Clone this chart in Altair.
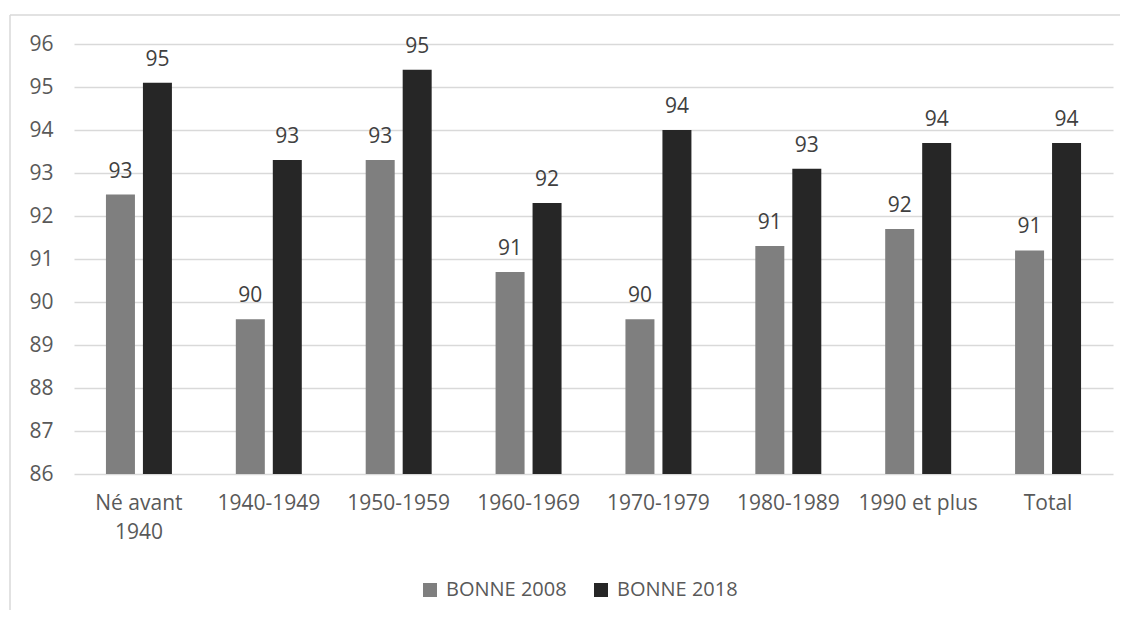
import altair as alt
import pandas as pd

categories = ["Né avant 1940", "1940-1949", "1950-1959", "1960-1969",
              "1970-1979", "1980-1989", "1990 et plus", "Total"]
series_names = ["BONNE 2008", "BONNE 2018"]
values_2008 = [92.5, 89.6, 93.3, 90.7, 89.6, 91.3, 91.7, 91.2]
values_2018 = [95.1, 93.3, 95.4, 92.3, 94.0, 93.1, 93.7, 93.7]
y_ticks = list(range(86, 97))

rows = []
for c, a, b in zip(categories, values_2008, values_2018):
    rows.append({"cat": c, "serie": series_names[0], "val": a})
    rows.append({"cat": c, "serie": series_names[1], "val": b})
df = pd.DataFrame(rows)

FONT = "Open Sans"
FS = 21
W, H = 1039, 430

x = alt.X("cat:N", sort=categories, title=None,
          scale=alt.Scale(paddingInner=0.492, paddingOuter=0.246),
          axis=alt.Axis(labelAngle=0, domain=False, ticks=False, labelPadding=18,
                        labelFontSize=FS, labelColor="#595959", labelFont=FONT,
                        labelLineHeight=29, labelBaseline="top",
                        labelExpr="datum.label == 'Né avant 1940' ? ['Né avant', '1940'] : datum.label"))
xo = alt.XOffset("serie:N", sort=series_names,
                 scale=alt.Scale(paddingInner=0.216, paddingOuter=0))
y = alt.Y("val:Q", title=None,
          scale=alt.Scale(domain=[86, 96], nice=False, zero=False, clamp=True),
          axis=alt.Axis(values=y_ticks, domain=False, ticks=False, grid=True,
                        gridColor="#d9d9d9", gridWidth=1.3, labelPadding=21,
                        labelFontSize=FS, labelColor="#595959", labelFont=FONT))
color = alt.Color("serie:N", sort=series_names,
                  scale=alt.Scale(domain=series_names, range=["#7f7f7f", "#262626"]),
                  legend=alt.Legend(title=None, orient="none", direction="horizontal",
                                    legendX=346, legendY=536, symbolType="square",
                                    symbolSize=196, symbolStrokeWidth=0,
                                    labelFontSize=20, labelFont=FONT,
                                    labelColor="#595959", labelOffset=6,
                                    columnPadding=24, padding=0))

base = alt.Chart(df)
bars = base.mark_bar().encode(x=x, xOffset=xo, y=y, color=color)
labels = base.mark_text(baseline="alphabetic", dy=-17, fontSize=FS, font=FONT,
                        color="#404040").encode(
    x=x, xOffset=xo, y=y, text=alt.Text("val:Q", format=".0f"))

border_top = alt.Chart(pd.DataFrame({"k": [0]})).mark_rule(
    color="#d9d9d9", strokeWidth=1.5).encode(
    x=alt.value(-64), x2=alt.value(W + 7), y=alt.value(-29))
border_left = alt.Chart(pd.DataFrame({"k": [0]})).mark_rule(
    color="#d9d9d9", strokeWidth=1.5).encode(
    x=alt.value(-64), y=alt.value(-29), y2=alt.value(H + 136))

chart = alt.layer(border_top, border_left, bars, labels).properties(
    width=W, height=H,
    autosize=alt.AutoSizeParams(type="none"),
    padding={"left": 66, "top": 36, "right": 7, "bottom": 136},
).configure(font=FONT).configure_view(stroke="transparent", strokeWidth=0)

chart.save("out.html", embed_options={"renderer": "svg", "actions": False})
